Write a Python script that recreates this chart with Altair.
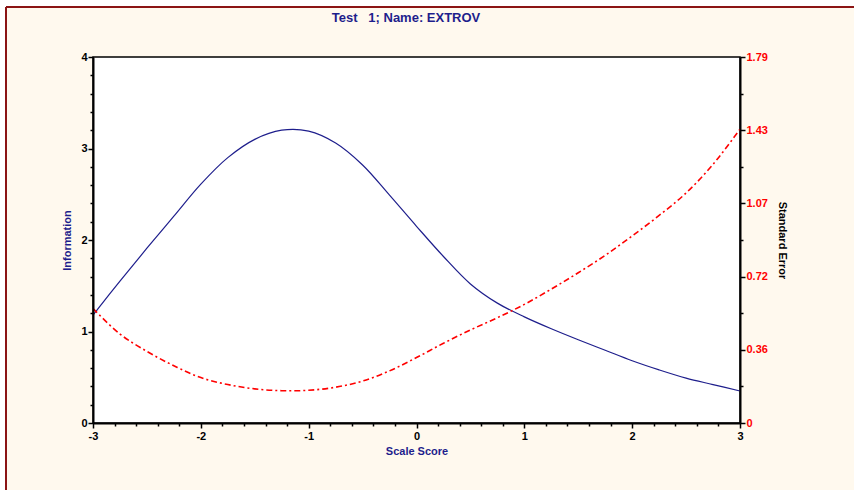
import altair as alt
import pandas as pd

theta = [-3.0, -2.75, -2.5, -2.25, -2.0, -1.75, -1.5, -1.25, -1.0, -0.75, -0.5, -0.25,
         0.0, 0.25, 0.5, 0.75, 1.0, 1.25, 1.5, 1.75, 2.0, 2.25, 2.5, 2.75, 3.0]
information = [1.18, 1.55, 1.91, 2.26, 2.61, 2.90, 3.10, 3.20, 3.19, 3.06, 2.82, 2.49,
               2.15, 1.82, 1.52, 1.31, 1.16, 1.03, 0.91, 0.795, 0.68, 0.58, 0.49, 0.42, 0.35]
std_error = [0.56, 0.435, 0.35, 0.28, 0.222, 0.188, 0.167, 0.158, 0.160, 0.175, 0.205, 0.255,
             0.32, 0.39, 0.455, 0.515, 0.58, 0.655, 0.735, 0.82, 0.915, 1.015, 1.125, 1.265, 1.437]

title_text = "Test\u00a0\u00a0\u00a01; Name: EXTROV"
x_title = "Scale Score"
y_title = "Information"
y2_title = "Standard Error"

x_ticks = [round(-3 + 0.2 * i, 1) for i in range(31)]
y_ticks = [round(0.2 * i, 1) for i in range(21)]
se_max = 1.79
y2_ticks = [round(se_max / 10 * i, 4) for i in range(11)]

df = pd.DataFrame({"theta": theta, "info": information, "se": std_error})

W, H = 647, 366
FONT = "Liberation Sans"
NAVY = "#1E1E8C"

one = alt.Data(values=[{}])

major_test = "abs(datum.value - round(datum.value)) < 0.001"
se_major_test = "abs(datum.value / 0.358 - round(datum.value / 0.358)) < 0.01"

x_axis = alt.Axis(
    values=x_ticks, title=x_title, titleFont=FONT, titleFontSize=11, titleFontWeight="bold",
    titleColor=NAVY, titleX=W / 2, titleY=28, titleBaseline="middle",
    labelExpr=f"{major_test} ? '' + round(datum.value) : ''",
    labelFont=FONT, labelFontSize=11, labelFontWeight="bold", labelColor="black",
    labelPadding=2, labelFlush=False, labelOverlap=False, labelBound=False,
    tickSize={"condition": {"test": major_test, "value": 5}, "value": 3},
    tickColor="black", tickWidth=1.5, domainColor="black", domainWidth=2,
    grid=False, zindex=1,
)

y_axis = alt.Axis(
    orient="left", values=y_ticks, title=y_title, titleFont=FONT, titleFontSize=11,
    titleFontWeight="bold", titleColor=NAVY, titleX=-26, titleY=H / 2, titleAngle=-90,
    titleBaseline="middle",
    labelExpr=f"{major_test} ? '' + round(datum.value) : ''",
    labelFont=FONT, labelFontSize=11, labelFontWeight="bold", labelColor="black",
    labelPadding=1, labelFlush=False, labelOverlap=False, labelBound=False,
    tickSize={"condition": {"test": major_test, "value": 5}, "value": 3},
    tickColor="black", tickWidth=1.5, domainColor="black", domainWidth=2,
    grid=False, zindex=1,
)

y2_axis = alt.Axis(
    orient="right", values=y2_ticks, title=y2_title, titleFont=FONT, titleFontSize=11,
    titleFontWeight="bold", titleColor="black", titleX=41, titleY=H / 2, titleAngle=90,
    titleBaseline="middle",
    labelExpr=f"{se_major_test} ? (datum.value == 0 ? '0' : format(datum.value, '.2f')) : ''",
    labelFont=FONT, labelFontSize=11, labelFontWeight="bold", labelColor="#FF0000",
    labelPadding=1, labelFlush=False, labelOverlap=False, labelBound=False,
    tickSize={"condition": {"test": se_major_test, "value": 5}, "value": 3},
    tickColor="black", tickWidth=1.5, domainColor="black", domainWidth=2,
    grid=False, zindex=1,
)

x_scale = alt.Scale(domain=[-3, 3], nice=False, zero=False)

info_line = alt.Chart(df).mark_line(color=NAVY, strokeWidth=1.2, interpolate="catmull-rom").encode(
    x=alt.X("theta:Q", scale=x_scale, axis=x_axis),
    y=alt.Y("info:Q", scale=alt.Scale(domain=[0, 4], nice=False), axis=y_axis),
)

se_line = alt.Chart(df).mark_line(color="#FF0000", strokeWidth=1.6, strokeDash=[6, 3, 2, 3],
                                  interpolate="catmull-rom").encode(
    x=alt.X("theta:Q", scale=x_scale, axis=x_axis),
    y=alt.Y("se:Q", scale=alt.Scale(domain=[0, se_max], nice=False), axis=y2_axis),
)

# frame decorations (white margin + dark red border of the original window)
white_top = alt.Chart(one).mark_rect(color="white").encode(
    x=alt.value(-93), x2=alt.value(761), y=alt.value(-57), y2=alt.value(-50))
white_left = alt.Chart(one).mark_rect(color="white").encode(
    x=alt.value(-93), x2=alt.value(-87), y=alt.value(-57), y2=alt.value(433))
border_top = alt.Chart(one).mark_rule(color="#8B1414", strokeWidth=2).encode(
    x=alt.value(-87), x2=alt.value(761), y=alt.value(-50))
border_left = alt.Chart(one).mark_rule(color="#8B1414", strokeWidth=2).encode(
    x=alt.value(-87), y=alt.value(-50), y2=alt.value(433))

title = alt.Chart(one).mark_text(font=FONT, fontSize=13, fontWeight="bold", color=NAVY,
                                 align="center", baseline="middle").encode(
    x=alt.value(313), y=alt.value(-39), text=alt.value(title_text))

chart = alt.layer(
    white_top, white_left, border_top, border_left, title, info_line, se_line
).resolve_scale(y="independent").properties(
    width=W, height=H,
    autosize=alt.AutoSizeParams(type="none"),
    padding={"left": 93, "top": 57, "right": 854 - 740, "bottom": 490 - 423},
    background="#FFF9EE",
).configure_view(fill="white", stroke="black", strokeWidth=1.5)

chart.save("out.html", embed_options={"renderer": "svg", "actions": False})
